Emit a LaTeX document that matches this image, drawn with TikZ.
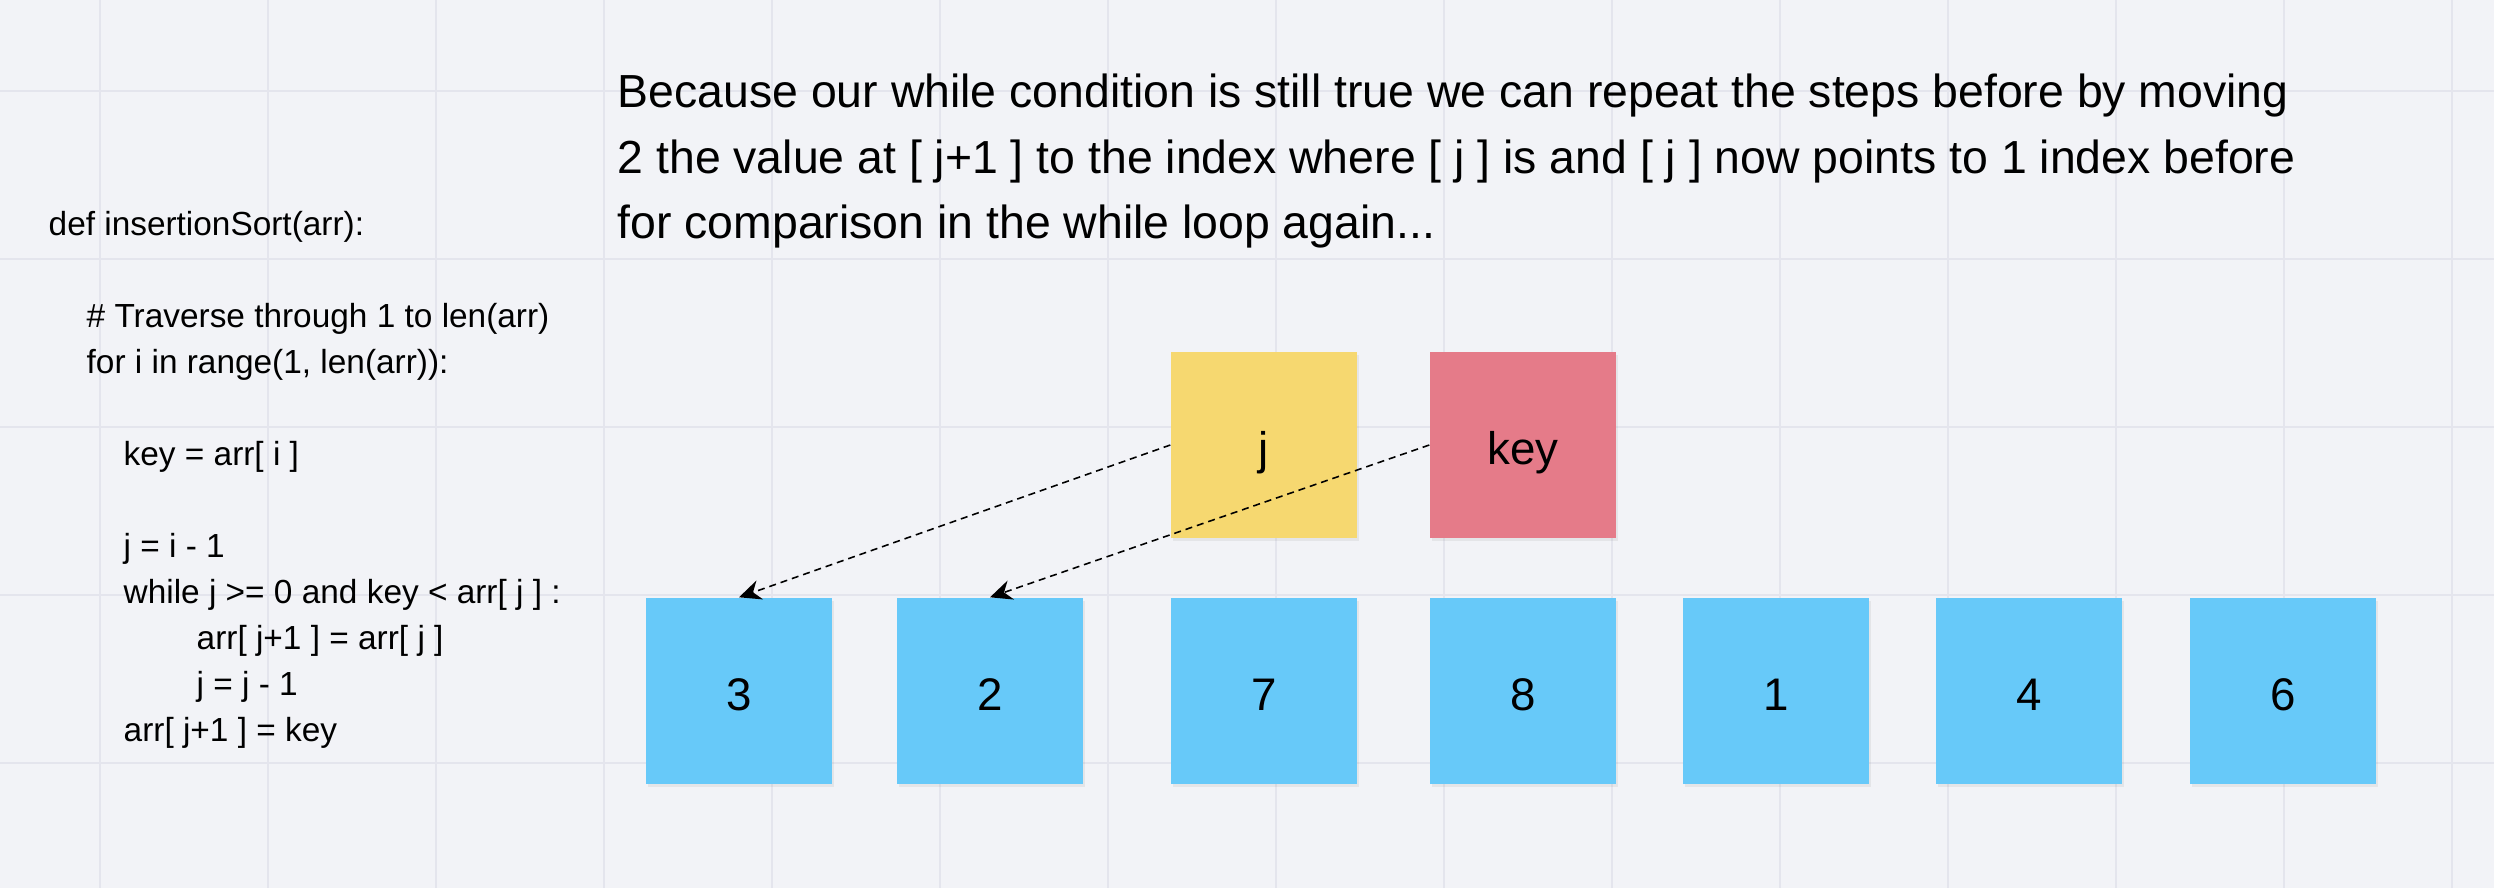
\documentclass[tikz,border=0pt]{standalone}
\usepackage{fontspec}
\setmainfont{Liberation Sans}
\usetikzlibrary{positioning,arrows.meta,shadows}

\definecolor{boardbg}{RGB}{242,243,247}
\definecolor{gridgray}{RGB}{228,229,237}
\definecolor{cellblue}{RGB}{103,201,249}
\definecolor{ptryellow}{RGB}{246,216,112}
\definecolor{keyred}{RGB}{229,123,137}

\tikzset{
  gridline/.style={draw=gridgray, line width=0.6pt},
  cell/.style={rectangle, minimum size=1.86cm, inner sep=0pt, fill=cellblue,
    font=\fontsize{13}{15}\selectfont, text height=11pt, text depth=0pt,
    drop shadow={shadow xshift=0.7pt, shadow yshift=-0.9pt, opacity=0.12}},
  ptrcell/.style={cell, fill=ptryellow},
  keycell/.style={cell, fill=keyred},
  codeline/.style={anchor=base west, inner sep=0pt, font=\fontsize{9.5}{11}\selectfont},
  noteline/.style={anchor=base west, inner sep=0pt, font=\fontsize{13.2}{16}\selectfont},
  link/.style={dash pattern=on 2pt off 1.4pt, line width=0.45pt,
    -{Stealth[length=2.2mm, width=2mm]}}
}

\begin{document}
\begin{tikzpicture}
    % board
    \useasboundingbox (0,0) rectangle (24.94,8.88);
    \fill[boardbg] (0,0) rectangle (24.94,8.88);
    \foreach \i in {0,...,14}
        \draw[gridline] ({1+1.68*\i},0) -- ({1+1.68*\i},8.88);
    \foreach \i in {0,...,4}
        \draw[gridline] (0,{7.97-1.68*\i}) -- (24.94,{7.97-1.68*\i});

    % explanation
    \node[noteline] (p1) at (6.17,7.81) {Because our while condition is still true we can repeat the steps before by moving};
    \node[noteline] (p2) at (6.17,7.15) {2 the value at [ j+1 ] to the index where [ j ] is and [ j ] now points to 1 index before};
    \node[noteline] (p3) at (6.17,6.50) {for comparison in the while loop again...};

    % insertion sort code
    \node[codeline] (c1) at (0.48,6.53) {def insertionSort(arr):};
    \node[codeline] (c2) at (0.86,5.61) {\# Traverse through 1 to len(arr)};
    \node[codeline] (c3) at (0.86,5.15) {for i in range(1, len(arr)):};
    \node[codeline] (c4) at (1.23,4.23) {key = arr[ i ]};
    \node[codeline] (c5) at (1.23,3.31) {j = i - 1};
    \node[codeline] (c6) at (1.23,2.85) {while j >= 0 and key < arr[ j ] :};
    \node[codeline] (c7) at (1.96,2.39) {arr[ j+1 ] = arr[ j ]};
    \node[codeline] (c8) at (1.96,1.93) {j = j - 1};
    \node[codeline] (c9) at (1.23,1.47) {arr[ j+1 ] = key};

    % array
    \node[cell] (a0) at (7.39,1.97) {3};
    \node[cell] (a1) at (9.90,1.97) {2};
    \node[cell] (a2) at (12.64,1.97) {7};
    \node[cell] (a3) at (15.23,1.97) {8};
    \node[cell] (a4) at (17.76,1.97) {1};
    \node[cell] (a5) at (20.29,1.97) {4};
    \node[cell] (a6) at (22.83,1.97) {6};

    % pointers
    \node[ptrcell] (j) at (12.64,4.43) {j};
    \node[keycell] (key) at (15.23,4.43) {key};

    \draw[link] (j.west) -- (a0.north);
    \draw[link] (key.west) -- (a1.north);
\end{tikzpicture}
\end{document}
